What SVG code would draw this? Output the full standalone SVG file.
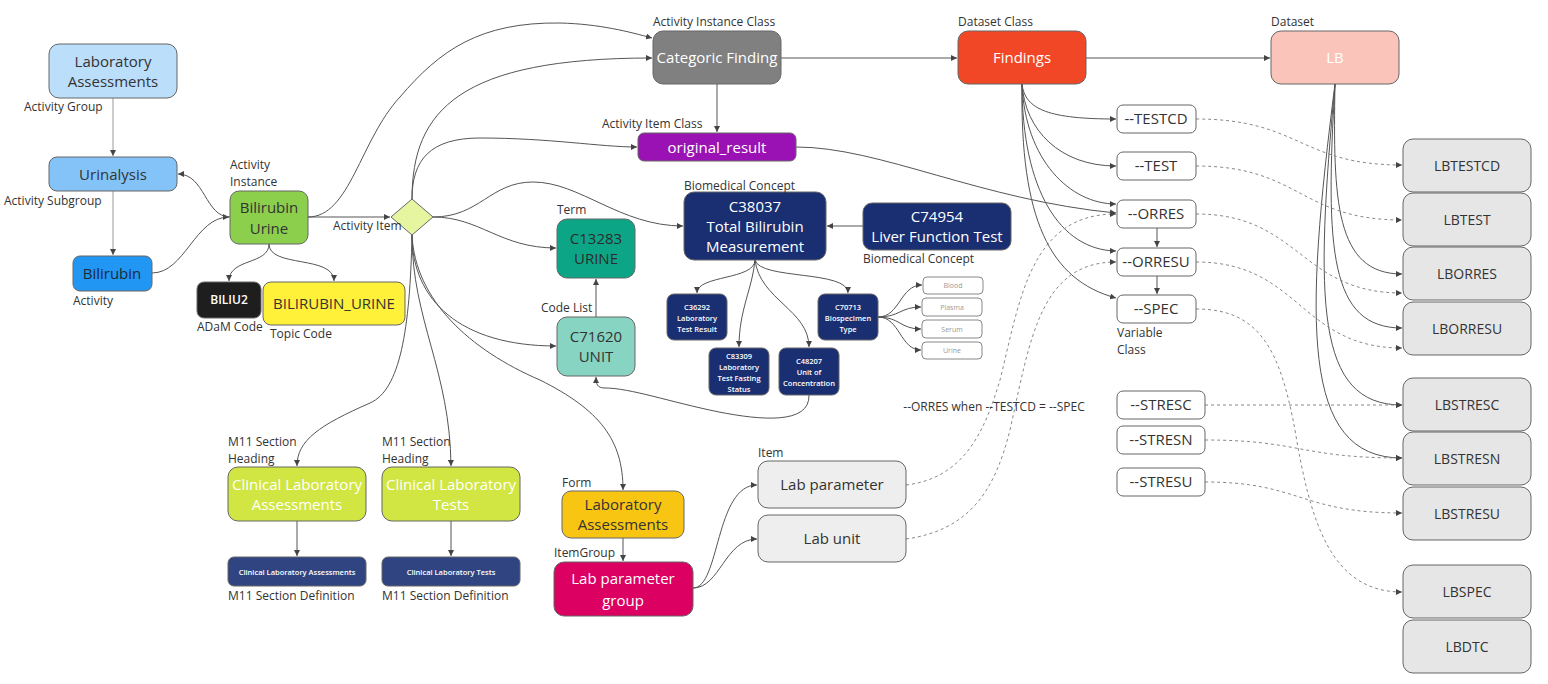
<svg xmlns="http://www.w3.org/2000/svg" width="1548" height="684" viewBox="0 0 1548 684">
<defs>
<marker id="ar" viewBox="0 0 6 6" refX="6" refY="3" markerWidth="6" markerHeight="6" markerUnits="userSpaceOnUse" orient="auto"><path d="M0,0 L6,3 L0,6 z" fill="#444"/></marker>
</defs>
<style>
text{font-family:"Open Sans","Noto Sans","DejaVu Sans",sans-serif}
.lbl{font-size:12px;fill:#333}
.t{font-size:15px;text-anchor:middle}
.w{fill:#fff}
.d{fill:#333}
.s{font-size:7.5px;font-weight:600;text-anchor:middle;fill:#fff}
.x{font-size:7px;text-anchor:middle;fill:#999}
.v{font-size:14px;text-anchor:middle;fill:#333}
.vv{font-size:15px;text-anchor:middle;fill:#333}
.b{stroke:#666;stroke-width:1}
.c path{fill:none;stroke:#555;stroke-width:1;marker-end:url(#ar)}
.c path.g{stroke:#999}
.c path.dash{stroke:#888;stroke-dasharray:3 3}
</style>
<rect width="1548" height="684" fill="#fff"/>
<g class="c" id="connectors">
<path class="g" d="M113,98 L113,156"/>
<path class="g" d="M113,191 L113,255"/>
<path d="M152,273 C185,273 195,217 229,217"/>
<path d="M230,217 C205,217 205,174 178,174"/>
<path d="M269,244 C269,265 229,258 229,281"/>
<path d="M269,244 C269,268 334,255 334,281"/>
<path d="M308,217 L390,217"/>
<path d="M308,217 C350,217 360,140 400,97 C440,50 480,22 560,23 C600,24 630,32 652,38"/>
<path d="M412,199 C412,110 460,58 652,58"/>
<path d="M412,199 C412,160 430,138 480,138 C550,138 600,147 637,147"/>
<path d="M433,217 C480,217 490,182 533,182 C580,182 620,226 683,226"/>
<path d="M433,217 C480,217 500,248 556,248"/>
<path d="M412,235 C412,300 460,346 556,346"/>
<path d="M412,235 C415,300 470,350 540,380 C600,410 623,440 623,490"/>
<path d="M412,235 C410,330 400,390 370,403 C320,425 297,440 297,466"/>
<path d="M412,235 C412,320 450,370 451,466"/>
<path d="M717,84 L717,132"/>
<path d="M781,58 L957,58"/>
<path d="M1086,58 L1270,58"/>
<path d="M863,226 L827,226"/>
<path d="M755,260 C755,280 697,275 697,293"/>
<path d="M755,260 C752,290 739,310 739,347"/>
<path d="M755,260 C760,300 809,310 809,347"/>
<path d="M755,260 C760,280 848,270 848,293"/>
<path d="M878,317 C900,317 900,285 922,285"/>
<path d="M878,317 C900,317 900,307 921,307"/>
<path d="M878,317 C900,317 900,329 921,329"/>
<path d="M878,317 C900,317 900,350 921,350"/>
<path d="M809,395 C810,425 760,420 719,412 C670,402 630,388 605,388 C597,388 596,384 596,377"/>
<path d="M596,317 L596,279"/>
<path d="M796,147 C880,147 980,200 1116,213"/>
<path d="M1022,84 C1025,110 1050,119 1116,119"/>
<path d="M1022,84 C1025,130 1060,166 1116,166"/>
<path d="M1022,84 C1025,160 1070,204 1116,204"/>
<path d="M1022,84 C1022,190 1060,250 1116,251"/>
<path d="M1022,84 C1020,220 1050,280 1116,298"/>
<path d="M1157,228 L1157,247"/>
<path d="M1157,276 L1157,294"/>
<path d="M1335,84 C1333,200 1335,274 1402,274"/>
<path d="M1335,84 C1325,250 1330,328 1402,328"/>
<path d="M1335,84 C1315,300 1315,405 1402,405"/>
<path d="M1335,84 C1305,320 1300,458 1402,458"/>
<path class="dash" d="M1196,119 C1300,119 1300,165 1402,165"/>
<path class="dash" d="M1196,166 C1300,166 1300,220 1402,220"/>
<path class="dash" d="M1196,214 C1300,214 1300,293 1402,293"/>
<path class="dash" d="M1196,262 C1300,262 1300,348 1402,348"/>
<path class="dash" d="M1196,309 C1260,309 1280,350 1295,430 C1310,520 1330,592 1402,592"/>
<path class="dash" d="M1205,405 L1402,405"/>
<path class="dash" d="M1205,440 C1300,440 1300,458 1402,458"/>
<path class="dash" d="M1205,482 C1300,482 1300,513 1402,513"/>
<path d="M693,588 C720,588 715,485 757,485"/>
<path d="M693,588 C720,588 725,539 757,539"/>
<path d="M623,538 L623,561"/>
<path class="dash" d="M906,485 C965,478 985,430 1000,380 C1020,300 1030,214 1116,214"/>
<path class="dash" d="M906,539 C970,530 995,490 1010,430 C1030,340 1040,262 1116,262"/>
<path d="M297,521 L297,556"/>
<path d="M451,521 L451,556"/>
</g>

<g id="lab-assessments-group"><rect class="b" x="49" y="44" width="128" height="54" rx="10" fill="#BBDEFB"/><text class="t d" x="113" y="67">Laboratory</text><text class="t d" x="113" y="87">Assessments</text><text class="lbl" x="24" y="111">Activity Group</text></g>
<g id="urinalysis"><rect class="b" x="49" y="157" width="128" height="34" rx="8" fill="#84C3F7"/><text class="t d" x="113" y="180">Urinalysis</text><text class="lbl" x="4" y="205">Activity Subgroup</text></g>
<g id="bilirubin"><rect class="b" x="73" y="256" width="79" height="35" rx="7" fill="#2196F3"/><text class="t" x="112" y="279" fill="#1c2a3a">Bilirubin</text><text class="lbl" x="73" y="305">Activity</text></g>
<g id="bilirubin-urine"><rect class="b" x="230" y="191" width="78" height="53" rx="9" fill="#8CCF4D"/><text class="t d" x="269" y="213">Bilirubin</text><text class="t d" x="269" y="234">Urine</text><text class="lbl" x="230" y="169">Activity</text><text class="lbl" x="230" y="186">Instance</text></g>
<g id="activity-item"><path class="b" d="M412,199 L433,217 L412,235 L391,217 z" fill="#E6F5A0"/><text class="lbl" x="333" y="230">Activity Item</text></g>
<g id="biliu2"><rect class="b" x="197" y="282" width="64" height="36" rx="7" fill="#1E1E1E"/><text x="229" y="304" font-size="12" font-weight="600" text-anchor="middle" fill="#fff">BILIU2</text><text class="lbl" x="197" y="331">ADaM Code</text></g>
<g id="topic-code"><rect class="b" x="263" y="282" width="142" height="43" rx="8" fill="#FFF03A"/><text class="vv" x="334" y="309">BILIRUBIN_URINE</text><text class="lbl" x="270" y="338">Topic Code</text></g>
<g id="categoric-finding"><rect class="b" x="653" y="31" width="128" height="53" rx="10" fill="#808080"/><text class="t w" x="717" y="63">Categoric Finding</text><text class="lbl" x="653" y="26">Activity Instance Class</text></g>
<g id="original-result"><rect class="b" x="638" y="133" width="158" height="28" rx="6" fill="#9A12B3"/><text class="t w" x="717" y="153">original_result</text><text class="lbl" x="602" y="128">Activity Item Class</text></g>
<g id="findings"><rect class="b" x="958" y="31" width="128" height="53" rx="10" fill="#F24726"/><text class="t w" x="1022" y="63">Findings</text><text class="lbl" x="958" y="26">Dataset Class</text></g>
<g id="lb"><rect class="b" x="1271" y="31" width="128" height="53" rx="10" fill="#FBC4BA"/><text class="t w" x="1335" y="63">LB</text><text class="lbl" x="1271" y="26">Dataset</text></g>
<g id="c38037"><rect class="b" x="684" y="192" width="142" height="68" rx="10" fill="#1A2E72"/><text class="t w" x="755" y="212">C38037</text><text class="t w" x="755" y="232">Total Bilirubin</text><text class="t w" x="755" y="252">Measurement</text><text class="lbl" x="684" y="190">Biomedical Concept</text></g>
<g id="c74954"><rect class="b" x="863" y="203" width="148" height="47" rx="9" fill="#1A2E72"/><text class="t w" x="937" y="222">C74954</text><text class="t w" x="937" y="242">Liver Function Test</text><text class="lbl" x="863" y="263">Biomedical Concept</text></g>
<g id="c13283"><rect class="b" x="557" y="219" width="78" height="59" rx="10" fill="#0CA687"/><text class="t" x="596" y="244" fill="#2b2b2b">C13283</text><text class="t" x="596" y="264" fill="#2b2b2b">URINE</text><text class="lbl" x="557" y="214">Term</text></g>
<g id="c71620"><rect class="b" x="557" y="317" width="78" height="59" rx="10" fill="#88D4C3"/><text class="t d" x="596" y="342">C71620</text><text class="t d" x="596" y="362">UNIT</text><text class="lbl" x="541" y="312">Code List</text></g>
<g id="c36292"><rect class="b" x="667" y="294" width="60" height="46" rx="7" fill="#1A2E72"/><text class="s" x="697" y="310">C36292</text><text class="s" x="697" y="321">Laboratory</text><text class="s" x="697" y="332">Test Result</text></g>
<g id="c83309"><rect class="b" x="709" y="348" width="60" height="47" rx="7" fill="#1A2E72"/><text class="s" x="739" y="359">C83309</text><text class="s" x="739" y="370">Laboratory</text><text class="s" x="739" y="381">Test Fasting</text><text class="s" x="739" y="392">Status</text></g>
<g id="c48207"><rect class="b" x="779" y="348" width="60" height="47" rx="7" fill="#1A2E72"/><text class="s" x="809" y="364">C48207</text><text class="s" x="809" y="375">Unit of</text><text class="s" x="809" y="386">Concentration</text></g>
<g id="c70713"><rect class="b" x="818" y="294" width="60" height="46" rx="7" fill="#1A2E72"/><text class="s" x="848" y="310">C70713</text><text class="s" x="848" y="321">Biospecimen</text><text class="s" x="848" y="332">Type</text></g>
<g id="blood"><rect x="923" y="277" width="60" height="17" rx="4" fill="#fff" stroke="#888"/><text class="x" x="953" y="288">Blood</text></g>
<g id="plasma"><rect x="922" y="298" width="60" height="18" rx="4" fill="#fff" stroke="#888"/><text class="x" x="952" y="310">Plasma</text></g>
<g id="serum"><rect x="922" y="320" width="60" height="18" rx="4" fill="#fff" stroke="#888"/><text class="x" x="952" y="332">Serum</text></g>
<g id="urine"><rect x="922" y="342" width="60" height="17" rx="4" fill="#fff" stroke="#888"/><text class="x" x="952" y="353">Urine</text></g>
<g id="testcd"><rect class="b" x="1117" y="105" width="79" height="28" rx="6" fill="#fff"/><text class="vv" x="1156" y="124">--TESTCD</text></g>
<g id="test"><rect class="b" x="1117" y="152" width="79" height="28" rx="6" fill="#fff"/><text class="vv" x="1156" y="171">--TEST</text></g>
<g id="orres"><rect class="b" x="1117" y="200" width="79" height="28" rx="6" fill="#fff"/><text class="vv" x="1156" y="219">--ORRES</text></g>
<g id="orresu"><rect class="b" x="1117" y="248" width="79" height="28" rx="6" fill="#fff"/><text class="vv" x="1156" y="267">--ORRESU</text></g>
<g id="spec"><rect class="b" x="1117" y="295" width="79" height="28" rx="6" fill="#fff"/><text class="vv" x="1156" y="314">--SPEC</text><text class="lbl" x="1117" y="337">Variable</text><text class="lbl" x="1117" y="354">Class</text></g>
<g id="stresc"><rect class="b" x="1117" y="391" width="88" height="28" rx="6" fill="#fff"/><text class="vv" x="1161" y="410">--STRESC</text></g>
<g id="stresn"><rect class="b" x="1117" y="426" width="88" height="28" rx="6" fill="#fff"/><text class="vv" x="1161" y="445">--STRESN</text></g>
<g id="stresu"><rect class="b" x="1117" y="468" width="88" height="28" rx="6" fill="#fff"/><text class="vv" x="1161" y="487">--STRESU</text></g>
<g id="lbtestcd"><rect class="b" x="1403" y="139" width="128" height="53" rx="10" fill="#E6E6E6"/><text class="v" x="1467" y="171">LBTESTCD</text></g>
<g id="lbtest"><rect class="b" x="1403" y="193" width="128" height="53" rx="10" fill="#E6E6E6"/><text class="v" x="1467" y="225">LBTEST</text></g>
<g id="lborres"><rect class="b" x="1403" y="247" width="128" height="53" rx="10" fill="#E6E6E6"/><text class="v" x="1467" y="279">LBORRES</text></g>
<g id="lborresu"><rect class="b" x="1403" y="302" width="128" height="53" rx="10" fill="#E6E6E6"/><text class="v" x="1467" y="334">LBORRESU</text></g>
<g id="lbstresc"><rect class="b" x="1403" y="378" width="128" height="53" rx="10" fill="#E6E6E6"/><text class="v" x="1467" y="410">LBSTRESC</text></g>
<g id="lbstresn"><rect class="b" x="1403" y="432" width="128" height="53" rx="10" fill="#E6E6E6"/><text class="v" x="1467" y="464">LBSTRESN</text></g>
<g id="lbstresu"><rect class="b" x="1403" y="487" width="128" height="53" rx="10" fill="#E6E6E6"/><text class="v" x="1467" y="519">LBSTRESU</text></g>
<g id="lbspec"><rect class="b" x="1403" y="565" width="128" height="53" rx="10" fill="#E6E6E6"/><text class="v" x="1467" y="597">LBSPEC</text></g>
<g id="lbdtc"><rect class="b" x="1403" y="620" width="128" height="53" rx="10" fill="#E6E6E6"/><text class="v" x="1467" y="652">LBDTC</text></g>
<g id="cla-heading"><rect class="b" x="228" y="467" width="138" height="54" rx="10" fill="#D1E642"/><text class="t w" x="297" y="490">Clinical Laboratory</text><text class="t w" x="297" y="510">Assessments</text><text class="lbl" x="228" y="446">M11 Section</text><text class="lbl" x="228" y="463">Heading</text></g>
<g id="clt-heading"><rect class="b" x="382" y="467" width="138" height="54" rx="10" fill="#D1E642"/><text class="t w" x="451" y="490">Clinical Laboratory</text><text class="t w" x="451" y="510">Tests</text><text class="lbl" x="382" y="446">M11 Section</text><text class="lbl" x="382" y="463">Heading</text></g>
<g id="cla-def"><rect class="b" x="228" y="557" width="138" height="29" rx="6" fill="#2F4480"/><text class="s" x="297" y="575">Clinical Laboratory Assessments</text><text class="lbl" x="228" y="600">M11 Section Definition</text></g>
<g id="clt-def"><rect class="b" x="382" y="557" width="138" height="29" rx="6" fill="#2F4480"/><text class="s" x="451" y="575">Clinical Laboratory Tests</text><text class="lbl" x="382" y="600">M11 Section Definition</text></g>
<g id="form"><rect class="b" x="562" y="491" width="122" height="47" rx="9" fill="#F9C513"/><text class="t d" x="623" y="510">Laboratory</text><text class="t d" x="623" y="530">Assessments</text><text class="lbl" x="562" y="487">Form</text></g>
<g id="lab-parameter-group"><rect class="b" x="554" y="562" width="139" height="54" rx="10" fill="#DB0062"/><text class="t w" x="623" y="584">Lab parameter</text><text class="t w" x="623" y="606">group</text><text class="lbl" x="554" y="557">ItemGroup</text></g>
<g id="lab-parameter"><rect class="b" x="758" y="461" width="148" height="47" rx="10" fill="#EEEEEE"/><text class="t d" x="832" y="490">Lab parameter</text><text class="lbl" x="758" y="457">Item</text></g>
<g id="lab-unit"><rect class="b" x="758" y="515" width="148" height="47" rx="10" fill="#EEEEEE"/><text class="t d" x="832" y="544">Lab unit</text></g>
<text class="lbl" x="994" y="411" text-anchor="middle">--ORRES when --TESTCD = --SPEC</text>
</svg>
